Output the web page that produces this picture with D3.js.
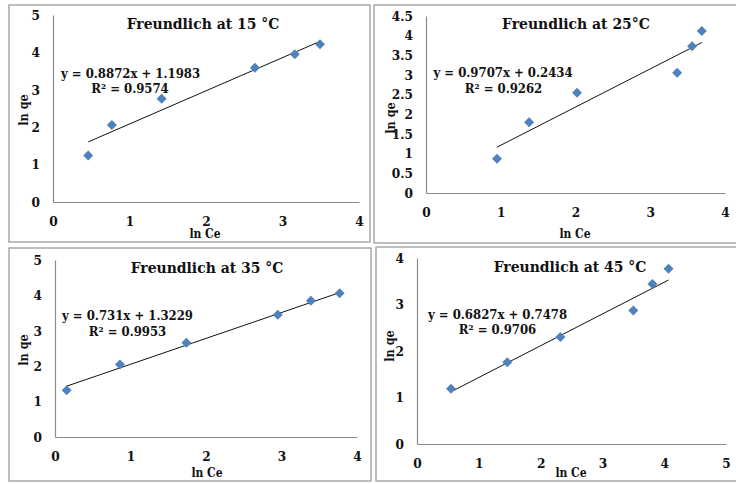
<!DOCTYPE html>
<html>
<head>
<meta charset="utf-8">
<script src="https://cdn.jsdelivr.net/npm/d3@7"></script>
<style>
  html, body { margin: 0; padding: 0; background: #fff; }
  svg { display: block; }
  text { font-family: "DejaVu Serif Condensed", "DejaVu Serif", "Liberation Serif", serif; font-stretch: condensed; font-weight: bold; fill: #111; }
</style>
</head>
<body>
<svg id="chart" width="736" height="484"></svg>
<script>
// Freundlich isotherm fits (ln qe vs ln Ce) at four temperatures
const temperatures = ["15 °C", "25°C", "35 °C", "45 °C"];

const lnCe15 = [0.46, 0.77, 1.42, 2.64, 3.16, 3.49];
const lnQe15 = [1.24, 2.06, 2.76, 3.59, 3.95, 4.22];

const lnCe25 = [0.95, 1.38, 2.02, 3.36, 3.56, 3.69];
const lnQe25 = [0.87, 1.80, 2.55, 3.06, 3.73, 4.12];

const lnCe35 = [0.155, 0.86, 1.74, 2.95, 3.39, 3.77];
const lnQe35 = [1.32, 2.05, 2.66, 3.45, 3.85, 4.06];

const lnCe45 = [0.55, 1.46, 2.32, 3.50, 3.81, 4.07];
const lnQe45 = [1.19, 1.76, 2.30, 2.87, 3.44, 3.77];

// Linear trendline parameters and goodness of fit
const slopes = [0.8872, 0.9707, 0.731, 0.6827];
const intercepts = [1.1983, 0.2434, 1.3229, 0.7478];
const rSquared = [0.9574, 0.9262, 0.9953, 0.9706];

// Axis ranges and tick steps
const xMax = [4, 4, 4, 5];
const yMax = [5, 4.5, 5, 4];
const yStep = [1, 0.5, 1, 1];

const xLabel = "ln Ce";
const yLabel = "ln qe";

const seriesX = [lnCe15, lnCe25, lnCe35, lnCe45];
const seriesY = [lnQe15, lnQe25, lnQe35, lnQe45];

// Panel geometry
const layouts = [
  { frame: [9, 5, 370, 242], plot: { left: 53, right: 359, bottom: 202, top: 15 },
    title: [203, 23], eq: [130.5, 73], r2: [130, 88], xt: [205, 234], yt: [23, 110] },
  { frame: [374, 5, 740, 243], plot: { left: 426, right: 725, bottom: 193, top: 16 },
    title: [576, 23], eq: [503, 72], r2: [503.5, 88], xt: [575, 234], yt: [390, 118] },
  { frame: [9, 248, 371, 481], plot: { left: 55, right: 357, bottom: 437, top: 260 },
    title: [207, 267], eq: [127.5, 315], r2: [127.5, 331], xt: [207, 473], yt: [23, 350] },
  { frame: [376, 247, 740, 481], plot: { left: 417, right: 726, bottom: 444, top: 258 },
    title: [570, 266], eq: [497.5, 314], r2: [497.5, 329], xt: [571, 473], yt: [389, 346] }
];

const svg = d3.select("#chart");
const axisColor = "#8a8a8a";
const markerColor = "#4f81bd";

layouts.forEach((L, i) => {
  const g = svg.append("g");

  // panel frame
  g.append("rect")
    .attr("x", L.frame[0]).attr("y", L.frame[1])
    .attr("width", L.frame[2] - L.frame[0]).attr("height", L.frame[3] - L.frame[1])
    .attr("fill", "#fff").attr("stroke", "#a3a3a3").attr("stroke-width", 1.4);

  const x = d3.scaleLinear().domain([0, xMax[i]]).range([L.plot.left, L.plot.right]);
  const y = d3.scaleLinear().domain([0, yMax[i]]).range([L.plot.bottom, L.plot.top]);

  const xTicks = d3.range(0, xMax[i] + 1e-9, 1);
  const yTicks = d3.range(0, yMax[i] + 1e-9, yStep[i]);

  const xAxis = g.append("g")
    .attr("transform", `translate(0,${L.plot.bottom})`)
    .call(d3.axisBottom(x).tickValues(xTicks).tickSize(0).tickPadding(14).tickFormat(d3.format("~g")));
  const yAxis = g.append("g")
    .attr("transform", `translate(${L.plot.left},0)`)
    .call(d3.axisLeft(y).tickValues(yTicks).tickSize(0).tickPadding(13).tickFormat(d3.format("~g")));

  [xAxis, yAxis].forEach(a => {
    a.select(".domain").attr("stroke", axisColor).attr("stroke-width", 1.2);
    a.selectAll("text")
      .attr("font-family", null).attr("font-size", null)
      .style("font-size", "13.5px").attr("fill", "#111");
  });

  // trendline over the data span
  const xs = seriesX[i];
  const x0 = d3.min(xs), x1 = d3.max(xs);
  g.append("line")
    .attr("x1", x(x0)).attr("y1", y(slopes[i] * x0 + intercepts[i]))
    .attr("x2", x(x1)).attr("y2", y(slopes[i] * x1 + intercepts[i]))
    .attr("stroke", "#111").attr("stroke-width", 1);

  // data markers (diamonds)
  const sym = d3.symbol().type(d3.symbolSquare).size(50);
  g.selectAll("path.pt")
    .data(xs.map((v, k) => [v, seriesY[i][k]]))
    .join("path")
    .attr("class", "pt")
    .attr("d", sym)
    .attr("transform", d => `translate(${x(d[0])},${y(d[1])}) rotate(45)`)
    .attr("fill", markerColor);

  // titles and labels
  g.append("text")
    .attr("x", L.title[0]).attr("y", L.title[1])
    .attr("text-anchor", "middle").attr("dominant-baseline", "central")
    .style("font-size", "15.5px")
    .text("Freundlich at " + temperatures[i]);

  g.append("text")
    .attr("x", L.eq[0]).attr("y", L.eq[1])
    .attr("text-anchor", "middle").attr("dominant-baseline", "central")
    .style("font-size", "13px")
    .text(`y = ${slopes[i]}x + ${intercepts[i]}`);

  g.append("text")
    .attr("x", L.r2[0]).attr("y", L.r2[1])
    .attr("text-anchor", "middle").attr("dominant-baseline", "central")
    .style("font-size", "13px")
    .text(`R² = ${rSquared[i]}`);

  g.append("text")
    .attr("x", L.xt[0]).attr("y", L.xt[1])
    .attr("text-anchor", "middle").attr("dominant-baseline", "central")
    .style("font-size", "12px")
    .text(xLabel);

  g.append("text")
    .attr("transform", `translate(${L.yt[0]},${L.yt[1]}) rotate(-90)`)
    .attr("text-anchor", "middle").attr("dominant-baseline", "central")
    .style("font-size", "12.5px")
    .text(yLabel);
});
</script>
</body>
</html>
